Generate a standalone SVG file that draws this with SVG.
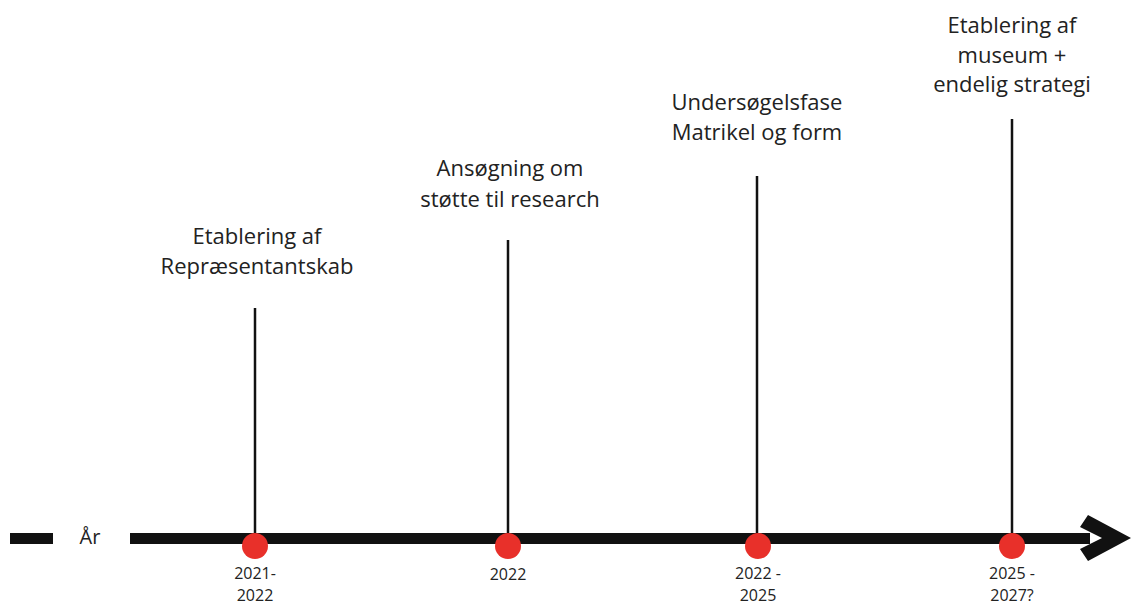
<svg xmlns="http://www.w3.org/2000/svg" width="1131" height="605" viewBox="0 0 1131 605">
<style>
.lbl{font-family:"Open Sans","Liberation Sans",sans-serif;font-size:22px;fill:#222;text-anchor:middle}
.yr{font-family:"Open Sans","Liberation Sans",sans-serif;font-size:16px;fill:#222;text-anchor:middle}
.stem{stroke:#111;stroke-width:2.5}
.dot{fill:#e8302a}
</style>
<rect width="1131" height="605" fill="#fff"/>
<g id="axis">
<rect x="10" y="533" width="43" height="11" fill="#111"/>
<text x="90" y="544" class="yr" style="font-size:20px">År</text>
<rect x="130" y="533" width="960" height="11" fill="#111"/>
<polygon points="1088,515 1131,538 1088,561 1080,549 1102,538 1080,527" fill="#111"/>
</g>
<g id="connectors">
<line class="stem" x1="255" y1="308" x2="255" y2="540"/>
<line class="stem" x1="508" y1="240" x2="508" y2="540"/>
<line class="stem" x1="757" y1="176" x2="757" y2="540"/>
<line class="stem" x1="1012" y1="119" x2="1012" y2="540"/>
</g>
<g id="node1">
<text class="lbl" x="257" y="244">Etablering af</text>
<text class="lbl" x="257" y="274">Repræsentantskab</text>
<circle class="dot" cx="255" cy="546" r="13"/>
<text class="yr" x="255" y="579">2021-</text>
<text class="yr" x="255" y="601">2022</text>
</g>
<g id="node2">
<text class="lbl" x="510" y="176">Ansøgning om</text>
<text class="lbl" x="510" y="207">støtte til research</text>
<circle class="dot" cx="508" cy="546" r="13"/>
<text class="yr" x="508" y="580">2022</text>
</g>
<g id="node3">
<text class="lbl" x="757" y="110">Undersøgelsfase</text>
<text class="lbl" x="757" y="140">Matrikel og form</text>
<circle class="dot" cx="758" cy="546" r="13"/>
<text class="yr" x="758" y="579">2022 -</text>
<text class="yr" x="758" y="601">2025</text>
</g>
<g id="node4">
<text class="lbl" x="1012" y="33">Etablering af</text>
<text class="lbl" x="1012" y="63">museum +</text>
<text class="lbl" x="1012" y="92">endelig strategi</text>
<circle class="dot" cx="1012" cy="546" r="13"/>
<text class="yr" x="1012" y="579">2025 -</text>
<text class="yr" x="1012" y="601">2027?</text>
</g>
</svg>
